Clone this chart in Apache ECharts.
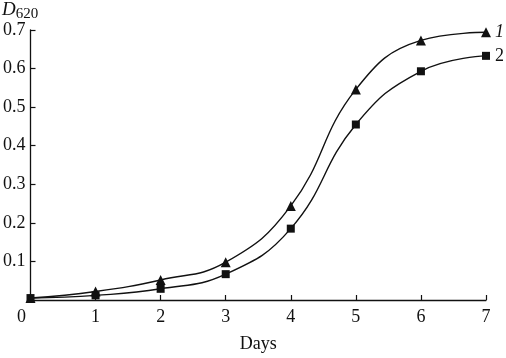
<!DOCTYPE html>
<html><head><meta charset="utf-8">
<script src="https://cdn.jsdelivr.net/npm/echarts@6/dist/echarts.min.js"></script>
<style>html,body{margin:0;padding:0;background:#fff}#c{width:506px;height:358px}</style>
</head><body><div id="c"></div>
<script>
var days = [0, 1, 2, 3, 4, 5, 6, 7];
var series1 = [0.005, 0.022, 0.052, 0.098, 0.244, 0.546, 0.673, 0.694];
var series2 = [0.005, 0.012, 0.029, 0.067, 0.185, 0.455, 0.593, 0.633];
var yTicks = ['0', '0.1', '0.2', '0.3', '0.4', '0.5', '0.6', '0.7'];
var seriesNames = ['1', '2'];

var font = 'Liberation Serif';
var chart = echarts.init(document.getElementById('c'));
function pairs(v) { return days.map(function (d, i) { return [d, v[i]]; }); }
chart.setOption({
  animation: false,
  backgroundColor: '#fff',
  grid: { left: 29, right: 20, top: 30, bottom: 47 },
  xAxis: {
    type: 'value', min: 0, max: 7, interval: 1,
    name: 'Days', nameLocation: 'middle', nameGap: 35,
    nameTextStyle: { fontFamily: font, fontSize: 18, color: '#111' },
    axisLine: { lineStyle: { color: '#111', width: 1.3 } },
    axisTick: { inside: true, length: 5, lineStyle: { color: '#111', width: 1.2 } },
    splitLine: { show: false },
    axisLabel: {
      fontFamily: font, fontSize: 18, color: '#111', margin: 8,
      formatter: function (v) { return v === 0 ? '{z|0}' : String(v); },
      rich: { z: { fontFamily: font, fontSize: 18, color: '#111', padding: [0, 18, 0, 0] } }
    }
  },
  yAxis: {
    type: 'value', min: 0, max: 0.7, interval: 0.1,
    axisLine: { show: true, lineStyle: { color: '#111', width: 1.3 } },
    axisTick: { show: true, inside: true, length: 5, lineStyle: { color: '#111', width: 1.2 } },
    splitLine: { show: false },
    axisLabel: {
      fontFamily: font, fontSize: 18, color: '#111', margin: 5,
      formatter: function (v, i) { return v === 0 ? '' : yTicks[Math.round(v * 10)]; }
    }
  },
  graphic: [{
    type: 'text', left: 2, top: 0,
    style: {
      text: '{d|D}{s|620}',
      rich: {
        d: { fontFamily: font, fontSize: 19, fontStyle: 'italic', fill: '#111' },
        s: { fontFamily: font, fontSize: 15, fill: '#111', padding: [9, 0, 0, 0] }
      }
    }
  }],
  series: [{
    name: seriesNames[0], type: 'line', smooth: 0.45, data: pairs(series1),
    symbol: 'triangle', symbolSize: 10,
    lineStyle: { color: '#111', width: 1.4 }, itemStyle: { color: '#111' },
    endLabel: { show: true, formatter: seriesNames[0], fontFamily: font, fontSize: 18, fontStyle: 'italic', color: '#111', distance: 9 }
  }, {
    name: seriesNames[1], type: 'line', smooth: 0.45, data: pairs(series2),
    symbol: 'rect', symbolSize: 8,
    lineStyle: { color: '#111', width: 1.4 }, itemStyle: { color: '#111' },
    endLabel: { show: true, formatter: seriesNames[1], fontFamily: font, fontSize: 18, color: '#111', distance: 9 }
  }]
});
</script></body></html>
